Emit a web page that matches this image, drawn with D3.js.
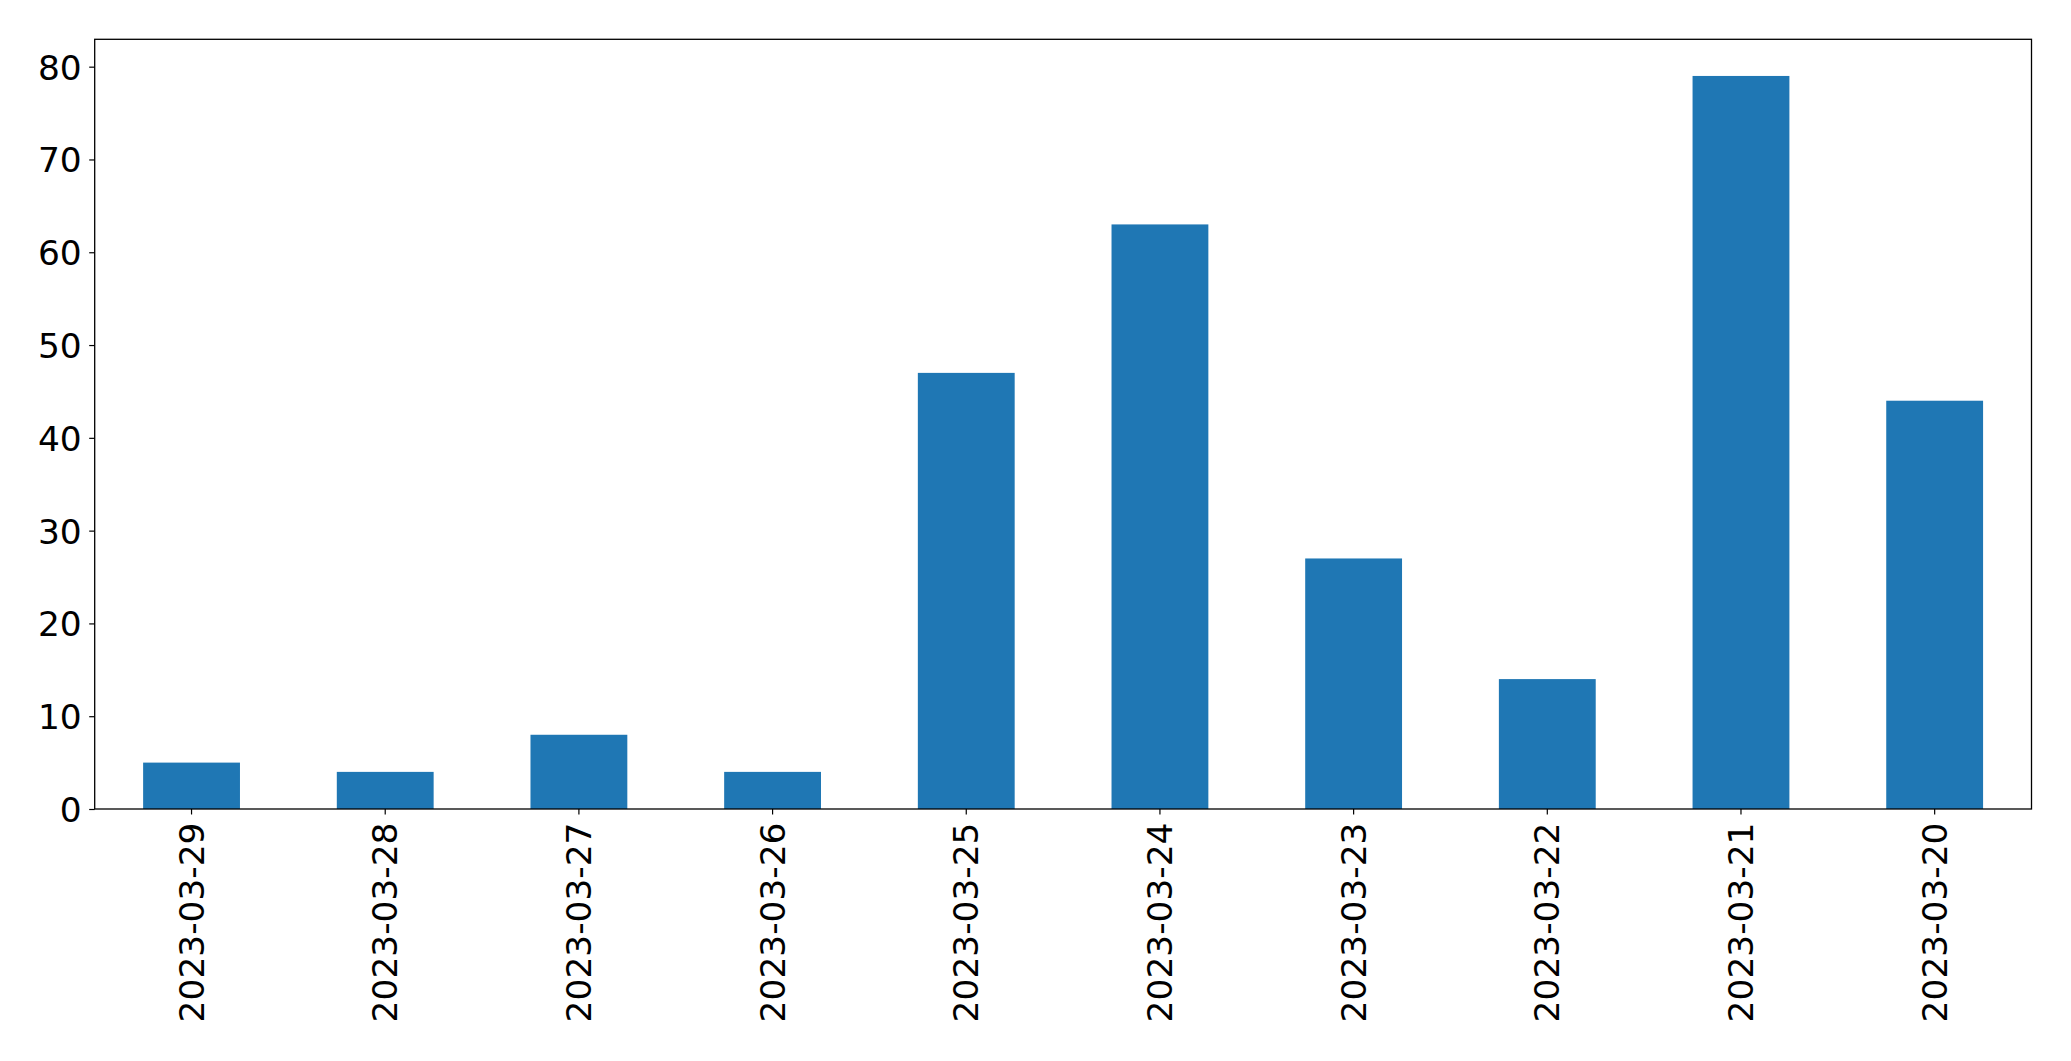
<!DOCTYPE html>
<html>
<head>
<meta charset="utf-8">
<script src="https://cdn.jsdelivr.net/npm/d3@7"></script>
<style>
  html, body { margin: 0; padding: 0; background: #fff; }
  svg { display: block; }
  text { font-family: "DejaVu Sans", sans-serif; fill: #000; }
</style>
</head>
<body>
<svg id="chart" width="2071" height="1061"></svg>
<script>
const categories = ["2023-03-29","2023-03-28","2023-03-27","2023-03-26","2023-03-25","2023-03-24","2023-03-23","2023-03-22","2023-03-21","2023-03-20"];
const values = [5, 4, 8, 4, 47, 63, 27, 14, 79, 44];
const yTicks = [0, 10, 20, 30, 40, 50, 60, 70, 80];

const plotLeft = 94.7, plotRight = 2031.5, plotTop = 39.3, plotBottom = 809;
const fontSize = 34.4;
const tickLen = 5.5;

const svg = d3.select("#chart");

const x = d3.scaleBand()
  .domain(categories)
  .range([plotLeft, plotRight])
  .paddingInner(0.5)
  .paddingOuter(0.25);

const y = d3.scaleLinear()
  .domain([0, d3.max(values) * 1.05])
  .range([plotBottom, plotTop]);

// bars
svg.append("g")
  .selectAll("rect")
  .data(categories)
  .join("rect")
  .attr("x", d => x(d))
  .attr("width", x.bandwidth())
  .attr("y", (d, i) => y(values[i]))
  .attr("height", (d, i) => y(0) - y(values[i]))
  .attr("fill", "#1f77b4");

// y axis
const yAxis = d3.axisLeft(y).tickValues(yTicks).tickSize(tickLen).tickPadding(7.5).tickFormat(d3.format("d"));
const gy = svg.append("g").attr("transform", `translate(${plotLeft},0)`).call(yAxis);
gy.select(".domain").remove();
gy.selectAll(".tick line").attr("stroke", "#000").attr("stroke-width", 1.2);
gy.selectAll(".tick text")
  .attr("font-size", fontSize)
  .attr("font-family", "DejaVu Sans, sans-serif")
  .attr("fill", "#000")
  .attr("dy", "0.36em");

// x axis
const xAxis = d3.axisBottom(x).tickSize(tickLen).tickPadding(8);
const gx = svg.append("g").attr("transform", `translate(0,${plotBottom})`).call(xAxis);
gx.select(".domain").remove();
gx.selectAll(".tick line").attr("stroke", "#000").attr("stroke-width", 1.2);
gx.selectAll(".tick text")
  .attr("font-size", fontSize)
  .attr("font-family", "DejaVu Sans, sans-serif")
  .attr("fill", "#000")
  .attr("text-anchor", "end")
  .attr("transform", "rotate(-90)")
  .attr("x", -(tickLen + 8))
  .attr("y", 0)
  .attr("dy", "0.35em");

// frame
svg.append("rect")
  .attr("x", plotLeft)
  .attr("y", plotTop)
  .attr("width", plotRight - plotLeft)
  .attr("height", plotBottom - plotTop)
  .attr("fill", "none")
  .attr("stroke", "#000")
  .attr("stroke-width", 1.3);
</script>
</body>
</html>
